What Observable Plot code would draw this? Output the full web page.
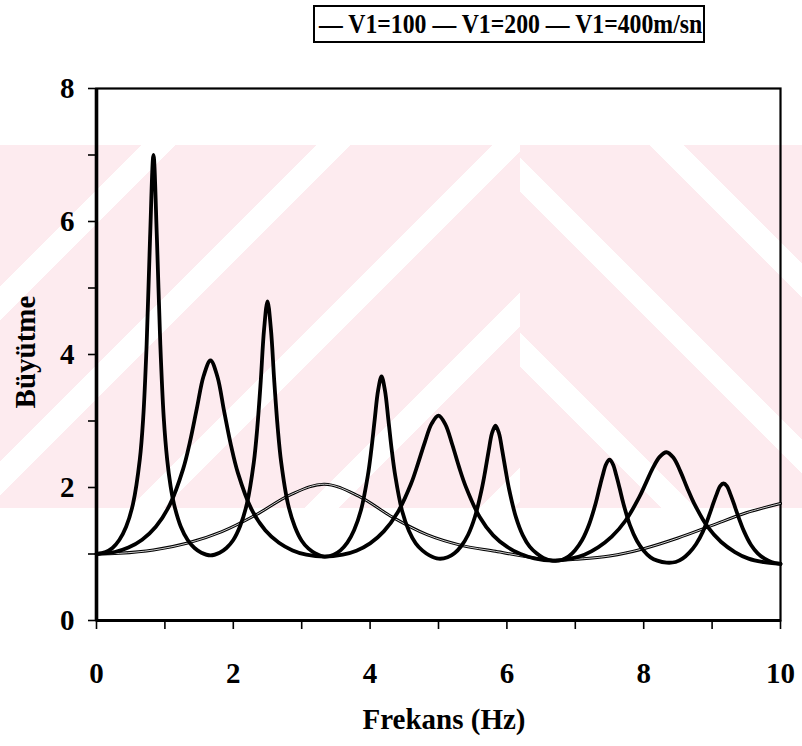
<!DOCTYPE html>
<html>
<head>
<meta charset="utf-8">
<script src="https://cdn.jsdelivr.net/npm/d3@7"></script>
<script src="https://cdn.jsdelivr.net/npm/@observablehq/plot@0.6"></script>
<style>
  body { margin: 0; background: #fff; }
  #wrap { position: relative; width: 802px; height: 746px; overflow: hidden;
          font-family: "Liberation Serif", "Times New Roman", serif; font-weight: bold; color: #000; }
  .wm { position: absolute; top: 145px; height: 363px; }
  #wmL { left: 0; width: 520px;
         background: repeating-linear-gradient(135deg, #fdebef 0 100px, #fff 100px 124px); }
  #wmR { left: 520px; width: 282px;
         background: repeating-linear-gradient(45deg, #fdebef 0 100px, #fff 100px 124px); }
  #chart { position: absolute; left: 0; top: 0; }
  #legend { position: absolute; left: 313px; top: 5px; width: 388px; height: 34px;
            border: 2px solid #000; background: #fff; overflow: hidden; }
  #legend span { position: absolute; left: 4px; top: 0; font-size: 27px; line-height: 34px;
                 white-space: nowrap; transform-origin: 0 50%; transform: scaleX(0.88); }
  #xtitle { position: absolute; left: 0; width: 888px; top: 701px; text-align: center;
            font-size: 29px; line-height: 36px; }
  #ytitle { position: absolute; left: 25px; top: 352px; transform: translate(-50%, -50%) rotate(-90deg);
            font-size: 29px; white-space: nowrap; }
</style>
</head>
<body>
<div id="wrap">
  <div class="wm" id="wmL"></div>
  <div class="wm" id="wmR"></div>
  <div id="chart"></div>
  <div id="legend"><span>— V1=100 — V1=200 — V1=400m/sn</span></div>
  <div id="xtitle">Frekans (Hz)</div>
  <div id="ytitle">Büyütme</div>
</div>
<script>
// Series names (legend)
const seriesNames = ["V1=100", "V1=200", "V1=400m/sn"];

// V1 = 100 m/s : frequency (Hz) and amplification
const f100 = [0, 0.133, 0.233, 0.333, 0.433, 0.533, 0.633, 0.683, 0.733, 0.783, 0.833, 0.883, 0.933, 0.983, 1.033, 1.083, 1.133, 1.233, 1.333, 1.433, 1.533, 1.667,
  1.8, 1.9, 2.0, 2.1, 2.2, 2.3, 2.35, 2.4, 2.45, 2.5, 2.55, 2.6, 2.65, 2.7, 2.8, 2.9, 3.0, 3.1, 3.2, 3.333,
  3.467, 3.567, 3.667, 3.767, 3.867, 3.967, 4.017, 4.067, 4.117, 4.167, 4.217, 4.267, 4.317, 4.367, 4.467, 4.567, 4.667, 4.767, 4.867, 5.0,
  5.133, 5.233, 5.333, 5.433, 5.533, 5.633, 5.683, 5.733, 5.783, 5.833, 5.883, 5.933, 5.983, 6.033, 6.133, 6.233, 6.333, 6.433, 6.533, 6.667,
  6.8, 6.9, 7.0, 7.1, 7.2, 7.3, 7.35, 7.4, 7.45, 7.5, 7.55, 7.6, 7.65, 7.7, 7.8, 7.9, 8.0, 8.1, 8.2, 8.333,
  8.467, 8.567, 8.667, 8.767, 8.867, 8.967, 9.017, 9.067, 9.117, 9.167, 9.217, 9.267, 9.317, 9.367, 9.467, 9.567, 9.667, 9.767, 9.867, 10];
const a100 = [1.00, 1.03, 1.09, 1.21, 1.41, 1.75, 2.42, 3.05, 4.15, 5.75, 7.00, 5.75, 4.15, 3.05, 2.42, 2.02, 1.75, 1.41, 1.21, 1.09, 1.02, 0.98,
  1.02, 1.09, 1.21, 1.42, 1.76, 2.38, 2.89, 3.58, 4.38, 4.80, 4.38, 3.58, 2.89, 2.38, 1.75, 1.41, 1.20, 1.08, 1.01, 0.96,
  0.99, 1.055, 1.17, 1.36, 1.66, 2.18, 2.56, 3.02, 3.46, 3.67, 3.46, 3.02, 2.56, 2.18, 1.65, 1.35, 1.16, 1.05, 0.98, 0.93,
  0.95, 1.01, 1.12, 1.29, 1.56, 1.98, 2.25, 2.55, 2.82, 2.93, 2.82, 2.55, 2.25, 1.97, 1.55, 1.28, 1.11, 1.01, 0.94, 0.90,
  0.91, 0.96, 1.06, 1.21, 1.44, 1.77, 1.98, 2.18, 2.35, 2.42, 2.35, 2.18, 1.98, 1.77, 1.43, 1.20, 1.05, 0.95, 0.90, 0.87,
  0.88, 0.93, 1.02, 1.15, 1.34, 1.61, 1.76, 1.90, 2.02, 2.06, 2.02, 1.90, 1.76, 1.61, 1.34, 1.14, 1.01, 0.93, 0.88, 0.85];

// V1 = 200 m/s
const f200 = [0, 0.267, 0.467, 0.667, 0.867, 1.067, 1.267, 1.367, 1.467, 1.567, 1.667, 1.767, 1.867, 1.967, 2.067, 2.267, 2.467, 2.667, 2.867, 3.067, 3.333,
  3.6, 3.8, 4.0, 4.2, 4.4, 4.6, 4.7, 4.8, 4.9, 5.0, 5.1, 5.2, 5.3, 5.4, 5.6, 5.8, 6.0, 6.2, 6.4, 6.667,
  6.933, 7.133, 7.333, 7.533, 7.733, 7.933, 8.033, 8.133, 8.233, 8.333, 8.433, 8.533, 8.633, 8.733, 8.933, 9.133, 9.333, 9.533, 9.733, 10];
const a200 = [1.00, 1.03, 1.097, 1.215, 1.41, 1.73, 2.28, 2.69, 3.19, 3.68, 3.91, 3.67, 3.14, 2.63, 2.22, 1.67, 1.357, 1.168, 1.054, 0.99, 0.96,
  0.99, 1.05, 1.16, 1.34, 1.62, 2.06, 2.36, 2.68, 2.96, 3.08, 2.95, 2.65, 2.31, 2.01, 1.56, 1.28, 1.11, 1.00, 0.935, 0.90,
  0.93, 0.99, 1.10, 1.26, 1.50, 1.85, 2.07, 2.29, 2.46, 2.53, 2.45, 2.25, 2.00, 1.77, 1.41, 1.18, 1.03, 0.93, 0.88, 0.85];

// V1 = 400 m/s
const f400 = [0, 0.333, 0.833, 1.333, 1.833, 2.333, 2.833, 3.333, 3.833, 4.333, 4.833, 5.333, 5.833, 6.333, 6.667, 7.0, 7.5, 8.0, 8.5, 9.0, 9.5, 10];
const a400 = [1.00, 1.01, 1.06, 1.165, 1.337, 1.59, 1.89, 2.05, 1.87, 1.55, 1.29, 1.13, 1.04, 0.95, 0.90, 0.92, 0.97, 1.08, 1.24, 1.43, 1.62, 1.76];

// Axis ticks
const xTicks = [0, 1, 2, 3, 4, 5, 6, 7, 8, 9, 10];
const xLabels = [0, 2, 4, 6, 8, 10];
const yTicks = [0, 1, 2, 3, 4, 5, 6, 7, 8];
const yLabels = [0, 2, 4, 6, 8];

const toRows = (fs, as, s) => fs.map((f, i) => ({f, a: as[i], s}));
const d100 = toRows(f100, a100, seriesNames[0]);
const d200 = toRows(f200, a200, seriesNames[1]);
const d400 = toRows(f400, a400, seriesNames[2]);

const fontStyle = {fontFamily: "Liberation Serif, Times New Roman, serif", fontWeight: "bold", fontSize: 29};

const chart = Plot.plot({
  width: 802,
  height: 746,
  marginTop: 88,
  marginBottom: 126,
  marginLeft: 96,
  marginRight: 22,
  style: {background: "transparent", color: "#000", fontFamily: "Liberation Serif, serif"},
  x: {domain: [0, 10]},
  y: {domain: [0, 8]},
  marks: [
    Plot.frame({stroke: "#000", strokeWidth: 2.2}),
    Plot.axisX({ticks: xTicks, tickSize: 9, tickPadding: 33, strokeWidth: 1.6,
      tickFormat: d => xLabels.includes(d) ? String(d) : "", label: null, ...fontStyle}),
    Plot.axisY({ticks: yTicks, tickSize: 8, tickPadding: 14, strokeWidth: 1.6,
      tickFormat: d => yLabels.includes(d) ? String(d) : "", label: null, ...fontStyle}),
    Plot.line(d400, {x: "f", y: "a", curve: "catmull-rom", stroke: "#000", strokeWidth: 3}),
    Plot.line(d400, {x: "f", y: "a", curve: "catmull-rom", stroke: "#e6e6e6", strokeWidth: 0.9}),
    Plot.line(d200, {x: "f", y: "a", curve: "catmull-rom", stroke: "#000", strokeWidth: 3.8}),
    Plot.line(d100, {x: "f", y: "a", curve: "catmull-rom", stroke: "#000", strokeWidth: 3.8}),
    Plot.ruleX([0], {stroke: "#000", strokeWidth: 3.6}),
    Plot.ruleY([0], {stroke: "#000", strokeWidth: 3})
  ]
});
document.getElementById("chart").appendChild(chart);
</script>
</body>
</html>
